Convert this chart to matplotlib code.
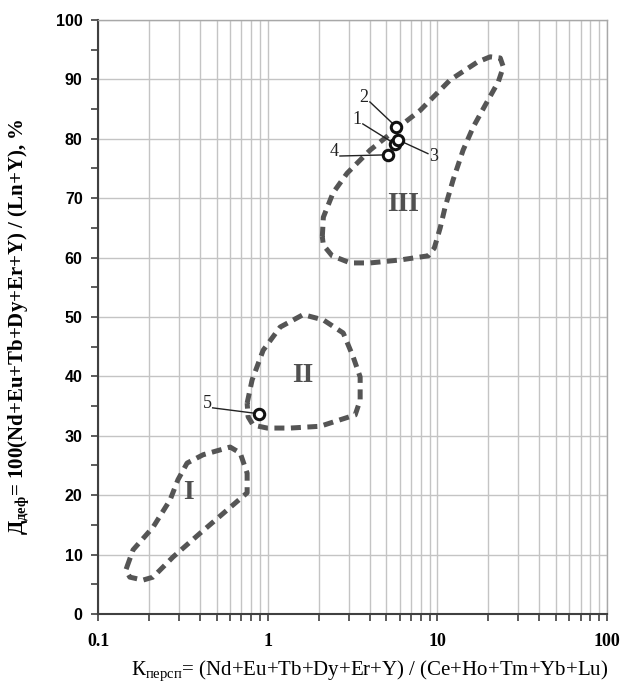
import matplotlib
matplotlib.use("Agg")
import matplotlib.pyplot as plt
from matplotlib.ticker import FixedLocator, NullFormatter, MultipleLocator

plt.rcParams['mathtext.fontset'] = 'custom'
plt.rcParams['mathtext.rm'] = 'Liberation Serif'
plt.rcParams['mathtext.bf'] = 'Liberation Serif:bold'

# ---- data ----
point_ids = ["1", "2", "3", "4", "5"]
point_x = [5.65, 5.73, 5.89, 5.14, 0.891]
point_y = [79.1, 82.0, 79.8, 77.3, 33.7]
label_x = [3.37, 3.71, 9.47, 2.47, 0.439]
label_y = [83.3, 87.0, 77.1, 77.9, 35.5]

region_I_x = [0.148, 0.161, 0.211, 0.266, 0.296, 0.335, 0.416, 0.601, 0.689, 0.757,
              0.757, 0.577, 0.400, 0.277, 0.211, 0.184, 0.154, 0.146]
region_I_y = [7.9, 10.8, 14.6, 19.2, 22.6, 25.4, 26.8, 28.1, 27.1, 23.7,
              20.4, 17.5, 13.6, 9.6, 6.2, 5.7, 6.2, 7.4]

region_II_x = [0.757, 0.810, 0.941, 1.185, 1.62, 2.13, 2.79, 3.19, 3.51, 3.51,
               3.28, 2.68, 2.04, 1.36, 0.993, 0.821, 0.767]
region_II_y = [35.5, 39.4, 44.4, 48.3, 50.4, 49.5, 47.3, 43.3, 39.9, 36.0,
               33.5, 32.7, 31.6, 31.3, 31.3, 31.8, 33.2]

region_III_x = [2.10, 2.13, 2.43, 2.94, 4.02, 5.65, 7.94, 11.9, 17.2, 20.5, 23.5,
                24.5, 22.9, 19.2, 16.3, 14.2, 12.4, 11.1, 10.4, 9.60, 8.85, 6.05,
                4.02, 3.07, 2.40, 2.13]
region_III_y = [63.5, 66.8, 70.9, 74.2, 78.1, 81.5, 84.8, 89.9, 92.9, 93.8, 93.6,
                92.1, 89.6, 85.7, 82.0, 78.1, 73.1, 68.4, 65.0, 61.6, 60.3, 59.6,
                59.1, 59.1, 60.3, 62.1]

region_names = ["I", "II", "III"]
region_label_x = [0.340, 1.62, 6.30]
region_label_y = [20.5, 40.2, 68.9]

x_ticks = [0.1, 1, 10, 100]
x_ticklabels = ["0.1", "1", "10", "100"]
y_ticks = list(range(0, 101, 10))

# ---- figure ----
fig = plt.figure(figsize=(6.27, 6.89), dpi=100)
ax = fig.add_axes([0.1563, 0.1089, 0.8117, 0.8621])
ax.set_xscale('log')
ax.set_xlim(0.1, 100)
ax.set_ylim(0, 100)

ax.set_xticks(x_ticks)
ax.set_xticklabels(x_ticklabels, fontfamily='Liberation Serif', fontweight='bold', fontsize=13)
minor = [m * 10.0 ** e for e in (-1, 0, 1) for m in range(2, 10)]
ax.xaxis.set_minor_locator(FixedLocator(minor))
ax.xaxis.set_minor_formatter(NullFormatter())
ax.set_yticks(y_ticks)
ax.set_yticklabels([str(v) for v in y_ticks], fontfamily='Liberation Sans', fontweight='bold', fontsize=11.5)
ax.yaxis.set_minor_locator(MultipleLocator(5))

ax.tick_params(which='both', direction='out', length=5, width=1.2, color='#404040')
ax.tick_params(axis='x', which='major', pad=9)
ax.tick_params(axis='y', which='major', pad=6)

ax.grid(which='major', axis='both', color='#c4c4c4', lw=1.0)
ax.grid(which='minor', axis='x', color='#c4c4c4', lw=1.0)
ax.set_axisbelow(True)

for s in ('top', 'right'):
    ax.spines[s].set_color('#a8a8a8')
    ax.spines[s].set_linewidth(1.0)
for s in ('left', 'bottom'):
    ax.spines[s].set_color('#404040')
    ax.spines[s].set_linewidth(1.5)

dash = dict(color='#555555', lw=3.6, linestyle=(0, (2.0, 1.3)),
            dash_capstyle='butt', solid_joinstyle='round', dash_joinstyle='round')
for rx, ry in ((region_I_x, region_I_y), (region_II_x, region_II_y), (region_III_x, region_III_y)):
    ax.plot(list(rx) + [rx[0]], list(ry) + [ry[0]], **dash)

for name, lx, ly in zip(region_names, region_label_x, region_label_y):
    ax.text(lx, ly, name, fontfamily='Liberation Serif', fontweight='bold', fontsize=20,
            color='#505050', ha='center', va='center')

# leader lines and labels
for pid, px, py, lx, ly in zip(point_ids, point_x, point_y, label_x, label_y):
    ax.plot([lx * (1.08 if lx < px else 0.93), px], [ly - (0.8 if ly > py else -0.4), py],
            color='#222222', lw=1.0)
    ax.text(lx, ly, pid, fontfamily='Liberation Serif', fontsize=13, color='#222222',
            ha='center', va='center')

ax.plot(point_x, point_y, linestyle='none', marker='o', markersize=7.5,
        markerfacecolor='white', markeredgecolor='#111111', markeredgewidth=2.2, zorder=5)

ax.set_xlabel(r'К$_{\mathrm{персп}}$= (Nd+Eu+Tb+Dy+Er+Y) / (Ce+Ho+Tm+Yb+Lu)',
              fontfamily='Liberation Serif', fontsize=15)
ax.xaxis.set_label_coords(0.534, -0.075)
ax.set_ylabel(r'Д$_{\mathbf{деф}}$= 100(Nd+Eu+Tb+Dy+Er+Y) / (Ln+Y), %',
              fontfamily='Liberation Serif', fontweight='bold', fontsize=15)
ax.yaxis.set_label_coords(-0.13, 0.484)

fig.savefig('out.png', dpi=100)
